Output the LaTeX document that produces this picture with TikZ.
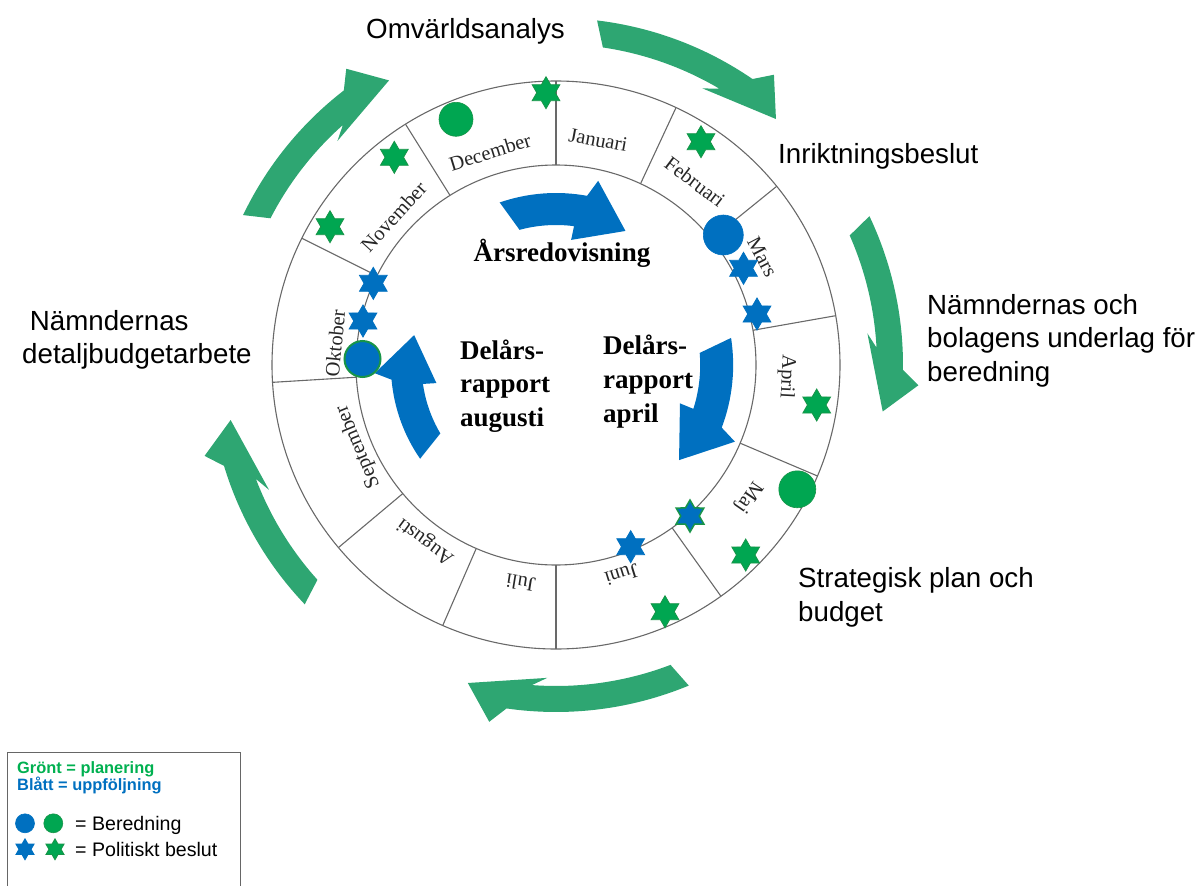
\documentclass[tikz,border=0pt]{standalone}
\usepackage{fontspec}
\setmainfont{Liberation Serif}
\newfontfamily\arial{Liberation Sans}
\usetikzlibrary{shapes.geometric}
\definecolor{cycgreen}{RGB}{46,166,114}
\definecolor{dotgreen}{RGB}{0,166,81}
\definecolor{edgegreen}{RGB}{24,148,72}
\definecolor{dotblue}{RGB}{0,112,192}
\definecolor{keygreen}{RGB}{0,176,80}
\definecolor{ringgray}{RGB}{105,105,105}

% green arrow round the wheel: tip angle, length in degrees
\newcommand\cyclearrow[2]{%
  \fill[cycgreen] (#1+#2:347) arc[start angle=#1+#2, end angle=#1+7.3, radius=347pt]
    -- (#1+4.9:363) -- (#1:330) -- (#1+13.9:313) -- (#1+11.2:321)
    arc[start angle=#1+11.2, end angle=#1+#2-1.6, radius=321pt] -- cycle;}
% blue arrow inside the wheel: tip angle, size factor
\newcommand\blueturn[2]{%
  \fill[dotblue] (#1+46.5:#2*172) arc[start angle=#1+46.5, end angle=#1+17, radius=#2*172pt]
    -- (#1+14.5:#2*189) -- (#1:#2*151) -- (#1+20.5:#2*126) -- (#1+20:#2*140)
    arc[start angle=#1+20, end angle=#1+42.5, radius=#2*140pt] -- cycle;}

\begin{document}
\begin{tikzpicture}[x=1pt, y=1pt,
  ringline/.style={draw=ringgray, line width=1.1pt},
  month/.style={font=\fontsize{20.5}{24}\selectfont, text=black!85, inner sep=0pt},
  gstar/.style={star, star points=6, star point ratio=1.73, minimum size=32pt, inner sep=0pt, fill=dotgreen, draw=edgegreen, line width=0.8pt},
  bstar/.style={gstar, fill=dotblue, draw=dotblue},
  gdot/.style={circle, minimum size=34pt, inner sep=0pt, fill=dotgreen, draw=edgegreen, line width=0.6pt},
  bdot/.style={gdot, fill=dotblue, draw=dotblue},
  sidetext/.style={font=\arial\fontsize{27.7}{33.5}\selectfont, inner sep=0pt, align=left, anchor=base west},
  midtext/.style={font=\bfseries\fontsize{27}{33.7}\selectfont, inner sep=0pt, align=left, anchor=base west},
  keytext/.style={font=\arial\fontsize{19.6}{23}\selectfont, inner sep=0pt, anchor=base west},
  keyhead/.style={font=\arial\bfseries\fontsize{16.4}{19}\selectfont, inner sep=0pt, anchor=base west}]
  \useasboundingbox (0,0) rectangle (1200,-886);

  \begin{scope}[shift={(556,-365)}]
    % the year cycle
    \cyclearrow{120.4}{34}
    \cyclearrow{48.2}{35}
    \cyclearrow{-8.1}{33.5}
    \cyclearrow{-105.5}{38}
    \cyclearrow{-170.4}{34}
    % month ring
    \draw[ringline] (0,0) circle[radius=284pt];
    \draw[ringline] (0,0) circle[radius=200pt];
    \foreach \a in {90,65,39,10,-23,-54.5,-90,-113.5,-140,183.5,153.5,122}
      \draw[ringline] (\a:200) -- (\a:284);
    \foreach \m/\a/\rad in {Januari/79.4/229, Februari/52.8/230, Mars/27.7/233, April/-2.9/231,
        Maj/-34.5/233, Juni/-72.6/220, Juli/-99.2/221, Augusti/-126.4/219,
        September/-157.5/214, Oktober/174.4/222, November/137.6/220, December/107.2/223}
      \node[month, rotate=\a-90] (m-\m) at (\a:\rad) {\m};
    % follow-up arrows
    \blueturn{62.6}{1}
    \blueturn{-37.7}{1.03}
    \blueturn{168.1}{0.96}
  \end{scope}

  % markers
  \node[gstar] (dec-star) at (546,-92.7) {};
  \node[gdot] (dec-dot) at (456,-119.3) {};
  \node[gstar] (nov-star-a) at (394.3,-157.3) {};
  \node[gstar] (nov-star-b) at (330,-226.7) {};
  \node[gstar] (feb-star) at (701,-141.7) {};
  \node[bdot, minimum size=40pt] (mar-dot) at (723.3,-235) {};
  \node[bstar] (mar-star-a) at (743.5,-268.3) {};
  \node[bstar] (mar-star-b) at (757,-314) {};
  \node[gstar] (apr-star) at (816.7,-405) {};
  \node[gdot, minimum size=37pt] (maj-dot) at (797.3,-489.3) {};
  \node[gstar] (maj-star) at (745.7,-555) {};
  \node[bstar, draw=edgegreen, line width=1.5pt] (maj-star-b) at (690,-516) {};
  \node[bstar] (jun-star-b) at (630.7,-546.7) {};
  \node[gstar] (jun-star) at (665,-611.7) {};
  \node[bstar] (okt-star-a) at (373.3,-283.3) {};
  \node[bstar] (okt-star-b) at (363,-321) {};
  \node[bdot, draw=edgegreen, line width=2pt, minimum size=36pt] (okt-dot) at (362.5,-359) {};

  % phases (base = last line)
  \node[sidetext] (omv) at (366,-38) {Omvärldsanalys};
  \node[sidetext] (inr) at (778,-163) {Inriktningsbeslut};
  \node[sidetext] (und) at (927,-381) {Nämndernas och\\bolagens underlag för\\beredning};
  \node[sidetext] (det) at (22,-363.5) {\hspace*{0.28em}Nämndernas\\detaljbudgetarbete};
  \node[sidetext] (bud) at (798,-621) {Strategisk plan och\\budget};
  \node[midtext, anchor=base] (ars) at (562,-261) {Årsredovisning};
  \node[midtext] (aug) at (460,-426.5) {Delårs-\\rapport\\augusti};
  \node[midtext] (apr) at (603,-422) {Delårs-\\rapport\\april};

  % key
  \draw[draw=black!60, line width=0.9pt] (7.5,-890) |- (240.5,-752) -- (240.5,-890);
  \node[keyhead, text=keygreen] (key-green) at (17,-773) {Grönt = planering};
  \node[keyhead, text=dotblue] (key-blue) at (17,-790) {Blått = uppföljning};
  \node[bdot, minimum size=19pt] (key-bdot) at (25,-823.3) {};
  \node[gdot, minimum size=19pt] (key-gdot) at (53.3,-823.3) {};
  \node[bstar, minimum size=21pt] (key-bstar) at (25,-849.3) {};
  \node[gstar, minimum size=21pt] (key-gstar) at (55,-849.3) {};
  \node[keytext] (key-dot) at (75,-830) {= Beredning};
  \node[keytext] (key-star) at (75,-856.7) {= Politiskt beslut};
\end{tikzpicture}
\end{document}
